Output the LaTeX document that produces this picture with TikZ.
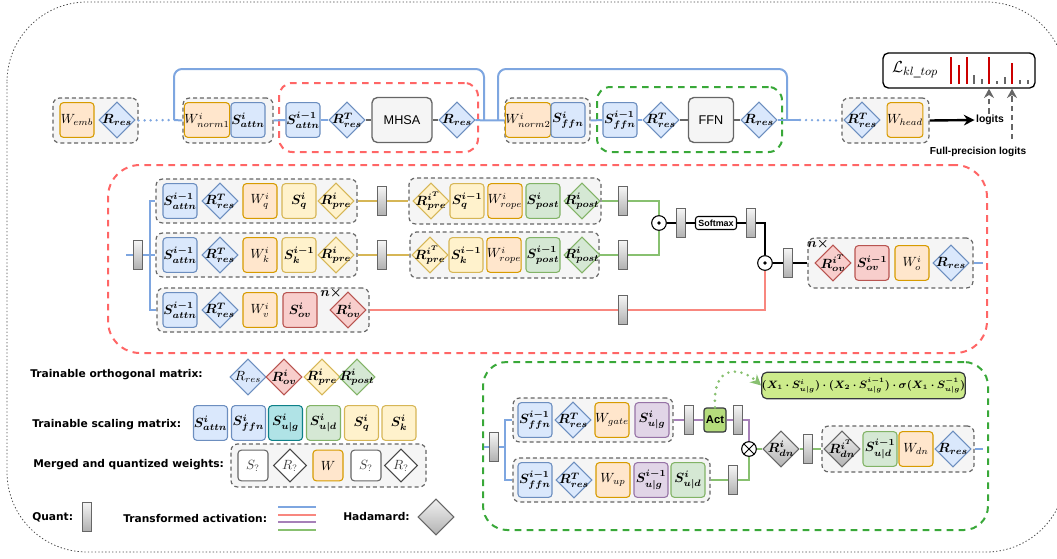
\documentclass[tikz,border=0pt]{standalone}
\usepackage[no-math]{fontspec}
\setmainfont{Liberation Sans}
\newfontfamily\dvs{DejaVu Sans}
\usepackage{amsmath}
\usepackage{bm}
\usetikzlibrary{shapes.geometric,fit,arrows.meta}
\definecolor{cBd}{HTML}{6C8EBF}\definecolor{cBf}{HTML}{DAE8FC}
\definecolor{cOd}{HTML}{D79B00}\definecolor{cOf}{HTML}{FFE6CC}
\definecolor{cYd}{HTML}{D6B656}\definecolor{cYf}{HTML}{FFF2CC}
\definecolor{cGd}{HTML}{82B366}\definecolor{cGf}{HTML}{D5E8D4}
\definecolor{cRd}{HTML}{B85450}\definecolor{cRf}{HTML}{F8CECC}
\definecolor{cPd}{HTML}{9673A6}\definecolor{cPf}{HTML}{E1D5E7}
\definecolor{cTd}{HTML}{0E8088}\definecolor{cTf}{HTML}{B0E3E6}
\definecolor{cGray}{HTML}{666666}\definecolor{cGrpF}{HTML}{F5F5F5}
\definecolor{cBl}{HTML}{7EA6E0}\definecolor{cGold}{HTML}{D6B656}
\definecolor{cGl}{HTML}{88C070}\definecolor{cRl}{HTML}{F8877F}
\definecolor{cPl}{HTML}{A680B8}\definecolor{cRB}{HTML}{FF6666}
\definecolor{cGB}{HTML}{39A839}\definecolor{cLime}{HTML}{CDEB8B}
\definecolor{cAct}{HTML}{B5DC7C}\definecolor{cDk}{HTML}{36393D}
\definecolor{cBar}{HTML}{CC0000}
\tikzset{
 mth/.style={font=\fontsize{10}{12}\selectfont},
 bx/.style={rectangle, rounded corners=2.5pt, line width=0.8pt, minimum width=25.5pt, minimum height=26pt, inner sep=0pt, mth},
 bB/.style={bx, draw=cBd, fill=cBf},
 bO/.style={bx, draw=cOd, fill=cOf},
 bY/.style={bx, draw=cYd, fill=cYf},
 bG/.style={bx, draw=cGd, fill=cGf},
 bR/.style={bx, draw=cRd, fill=cRf},
 bP/.style={bx, draw=cPd, fill=cPf},
 bT/.style={bx, draw=cTd, fill=cTf},
 bW/.style={bx, draw=cGray, fill=white, minimum width=22.5pt, minimum height=23pt, text=black!75},
 dm/.style={diamond, line width=0.8pt, minimum width=27pt, minimum height=27pt, inner sep=0pt},
 dB/.style={dm, draw=cBd, fill=cBf},
 dR/.style={dm, draw=cRd, fill=cRf},
 dY/.style={dm, draw=cYd, fill=cYf},
 dG/.style={dm, draw=cGd, fill=cGf},
 dH/.style={dm, draw=cGray, top color=gray!12, bottom color=gray!60},
 dW/.style={dm, draw=cGray!70!black, fill=white, minimum width=25pt, minimum height=25pt},
 grp/.style={draw=cGray, fill=cGrpF, line width=0.9pt, dash pattern=on 3pt off 2.2pt, rounded corners=5pt, inner sep=0pt},
 qt/.style={rectangle, draw=cGray, line width=0.7pt, top color=gray!8, bottom color=gray!62, minimum width=7pt, minimum height=21.75pt, inner sep=0pt},
 op/.style={rectangle, rounded corners=4pt, draw=cGray, fill=cGrpF, line width=1pt, minimum height=33.75pt, font=\fontsize{9.5}{11}\selectfont},
 cl/.style={circle, draw=black, line width=0.8pt, fill=white, minimum size=11pt, inner sep=0pt},
 lB/.style={draw=cBl, line width=1.5pt},
 lGd/.style={draw=cGold, line width=1.5pt},
 lGn/.style={draw=cGl, line width=1.5pt},
 lRd/.style={draw=cRl, line width=1.5pt},
 lPu/.style={draw=cPl, line width=1.5pt},
 lK/.style={draw=black, line width=1.5pt},
 lM/.style={draw=cGray, line width=1.5pt},
 dotl/.style={line cap=round, dash pattern=on 0pt off 4.5pt, line width=2pt},
 lgt/.style={font=\dvs\bfseries\fontsize{8}{10}\selectfont, inner sep=0pt, anchor=west},
 bt/.style={font=\bfseries\fontsize{7.8}{9}\selectfont, inner sep=1pt},
 gdarr/.style={draw=cGray, line width=1.5pt, dash pattern=on 4pt off 3pt, -{Stealth[length=7pt,width=7.5pt]}},
}
\newcommand\Dia[4]{\node[#1,label={[mth]center:{#4}}] (#2) at (#3) {};}
\begin{document}
\begin{tikzpicture}[x=0.75pt,y=-0.75pt]
\useasboundingbox (0,0) rectangle (1057,558);
% outer frame
\draw[black!70, line width=0.6pt, dash pattern=on 1pt off 1.6pt, rounded corners=60pt] (7,2) rectangle (1066,552);

% ================= TOP ROW =================
\node[grp, fit={(53,98) (138,143)}] (g0) {};
\node[grp, fit={(183,98) (273,143)}] (g1) {};
\node[draw=cRB, line width=1.5pt, dash pattern=on 5pt off 4pt, rounded corners=10pt, inner sep=0pt, fit={(279,83) (478,152)}] (redtop) {};
\node[grp, fit={(505,98) (590,143)}] (g2) {};
\node[draw=cGB, line width=1.5pt, dash pattern=on 5pt off 4pt, rounded corners=10pt, inner sep=0pt, fit={(597,87) (782,152)}] (grntop) {};
\node[grp, fit={(842,98) (929,143)}] (gh) {};

\node[bO] (wemb) at (77,120) {$W_{emb}$};
\Dia{dB}{rr0}{117,120}{$\bm{R_{res}}$}
\node[bO] (wn1) at (207,120) {$W^{i}_{norm1}$};
\node[bB] (sa1) at (248,120) {$\bm{S^{i}_{attn}}$};
\node[bB] (sa2) at (303,120) {$\bm{S^{i-1}_{attn}}$};
\Dia{dB}{rt1}{347,120}{$\bm{R^{T}_{res}}$}
\node[op, minimum width=45pt] (mhsa) at (402,120) {MHSA};
\Dia{dB}{rr1}{457,120}{$\bm{R_{res}}$}
\node[bO] (wn2) at (528,120) {$W^{i}_{norm2}$};
\node[bB] (sf1) at (568,120) {$\bm{S^{i}_{ffn}}$};
\node[bB] (sf2) at (620,120) {$\bm{S^{i-1}_{ffn}}$};
\Dia{dB}{rt2}{661,120}{$\bm{R^{T}_{res}}$}
\node[op, minimum width=33.75pt] (ffn) at (711,120) {FFN};
\Dia{dB}{rr2}{759,120}{$\bm{R_{res}}$}
\Dia{dB}{rt3}{862,120}{$\bm{R^{T}_{res}}$}
\node[bO] (whead) at (905,120) {$W_{head}$};

\coordinate (lp1) at (174,120);
\coordinate (lp1e) at (484,120);
\coordinate (lp2) at (498,120);
\coordinate (lp2e) at (787,120);
\coordinate (dd1) at (800,120);
\draw[lB, dotl] (g0.east) -- (lp1);
\draw[lB] (lp1) -- (g1.west);
\draw[lB, rounded corners=6pt] (lp1) -- ++(0,-51) -| (lp1e);
\draw[lB] (g1.east) -- (sa2.west);
\draw[lB] (sa2) -- (rt1);
\draw[lM] (rt1) -- (mhsa);
\draw[lM] (mhsa) -- (rr1);
\draw[lB] (rr1) -- (g2.west);
\draw[lB, rounded corners=6pt] (lp2) -- ++(0,-51) -| (lp2e);
\draw[lB] (g2.east) -- (sf2.west);
\draw[lB] (sf2) -- (rt2);
\draw[lM] (rt2) -- (ffn);
\draw[lM] (ffn) -- (rr2);
\draw[lB] (rr2) -- (dd1);
\draw[lB, dotl] (dd1) -- (gh.west);

% logits & loss
\node[bt] (logits) at (990,120) {logits};
\node[bt, inner sep=0pt, font=\bfseries\fontsize{7.6}{9}\selectfont] (fpl) at (978,152) {Full-precision logits};
\draw[black, line width=1.8pt, -{Stealth[length=8pt,width=8pt]}] (gh.east) -- (logits.west);
\node[draw=black, line width=1pt, rounded corners=4pt, inner sep=0pt, fit={(883,53) (1035,88)}] (Lbox) {};
\node[inner sep=0pt, font=\fontsize{13}{14}\selectfont] (Ltxt) at (915,70) {$\mathcal{L}_{kl\_top}$};
\foreach \x/\t in {951/57,959/65,967/57,989/57,1012/63}{\draw[cBar, line width=1.4pt] (\x,84) -- (\x,\t);}
\foreach \x/\t in {974/75,982/79,997/81,1005/77,1020/80,1028/80}{\draw[cGray, line width=1.1pt] (\x,84) -- (\x,\t);}
\coordinate (fpx) at (1012,139);
\draw[gdarr] (logits.north -| 989,0) -- (989,0 |- Lbox.south);
\draw[gdarr] (fpx) -- (fpx |- Lbox.south);

% ================= ATTENTION DETAIL =================
\node[draw=cRB, line width=1.5pt, dash pattern=on 5pt off 4pt, rounded corners=24pt, inner sep=0pt, fit={(108,165) (987,353)}] (attn) {};
\node[grp, fit={(156,179) (357,223)}] (gQ) {};
\node[grp, fit={(156,233) (357,277)}] (gK) {};
\node[grp, fit={(157,288) (369,332)}] (gV) {};
\node[grp, fit={(409,178) (601,224)}] (gQ2) {};
\node[grp, fit={(410,232) (599,278)}] (gK2) {};
\node[grp, fit={(808,238) (973,288)}] (gO) {};

\node[qt] (qa) at (138,255) {};
\coordinate (inA) at (126,255);
\coordinate (brA) at (150,255);

% Q row
\node[bB] (saQ) at (180,201) {$\bm{S^{i-1}_{attn}}$};
\Dia{dB}{rtQ}{220,201}{$\bm{R^{T}_{res}}$}
\node[bO] (wq) at (260,201) {$W^{i}_{q}$};
\node[bY] (sq) at (299,201) {$\bm{S^{i}_{q}}$};
\Dia{dY}{rpQ}{336,201}{$\bm{R^{i}_{pre}}$}
% K row
\node[bB] (saK) at (180,255) {$\bm{S^{i-1}_{attn}}$};
\Dia{dB}{rtK}{220,255}{$\bm{R^{T}_{res}}$}
\node[bO] (wk) at (260,255) {$W^{i}_{k}$};
\node[bY] (sk) at (299,255) {$\bm{S^{i-1}_{k}}$};
\Dia{dY}{rpK}{336,255}{$\bm{R^{i}_{pre}}$}
% V row
\node[bB] (saV) at (180,310) {$\bm{S^{i-1}_{attn}}$};
\Dia{dB}{rtV}{220,310}{$\bm{R^{T}_{res}}$}
\node[bO] (wv) at (260,310) {$W^{i}_{v}$};
\node[bR] (sov) at (300,310) {$\bm{S^{i}_{ov}}$};
\Dia{dR}{rov}{348,310}{$\bm{R^{i}_{ov}}$}
\node[mth, inner sep=0pt] (nx1) at (331,293) {$\bm{n\times}$};

\node[qt] (q1) at (382,201) {};
\node[qt] (q2) at (382,255) {};
% Q2 row
\Dia{dY}{rpiQ}{431,201}{$\bm{R^{i^{T}}_{pre}}$}
\node[bY] (sq2) at (467,201) {$\bm{S^{i-1}_{q}}$};
\node[bO] (wr1) at (505,201) {$W^{i}_{rope}$};
\node[bG] (sp1) at (543,201) {$\bm{S^{i}_{post}}$};
\Dia{dG}{rpo1}{582,201}{$\bm{R^{i}_{post}}$}
% K2 row
\Dia{dY}{rpiK}{430,255}{$\bm{R^{i^{T}}_{pre}}$}
\node[bY] (sk2) at (466,255) {$\bm{S^{i-1}_{k}}$};
\node[bO] (wr2) at (504,255) {$W^{i}_{rope}$};
\node[bG] (sp2) at (543,255) {$\bm{S^{i-1}_{post}}$};
\Dia{dG}{rpo2}{582,255}{$\bm{R^{i}_{post}}$}

\node[qt] (q3) at (623,201) {};
\node[qt] (q4) at (623,255) {};
\node[qt] (q7) at (623,310) {};
\node[cl] (od1) at (659,223) {};
\fill (od1.center) circle (1.4pt);
\node[qt] (q5) at (681,223) {};
\node[draw=black, line width=0.8pt, rounded corners=2pt, fill=white, minimum width=30.75pt, minimum height=9.75pt, inner sep=0pt, font=\bfseries\fontsize{6.7}{8}\selectfont] (smx) at (716,223) {Softmax};
\node[qt] (q6) at (751,223) {};
\node[cl] (od2) at (765,263) {};
\fill (od2.center) circle (1.4pt);
\node[qt] (q8) at (788,263) {};

% O row
\Dia{dR}{rovT}{833,263}{$\bm{R^{i^{T}}_{ov}}$}
\node[bR] (sov2) at (872,263) {$\bm{S^{i-1}_{ov}}$};
\node[bO] (wo) at (912,263) {$W^{i}_{o}$};
\Dia{dB}{rr3}{951,263}{$\bm{R_{res}}$}
\node[mth, inner sep=0pt] (nx2) at (818,244) {$\bm{n\times}$};
\coordinate (outA) at (983,263);

\draw[lB] (inA) -- (qa);
\draw[lB] (qa) -- (brA) -- (gK.west);
\draw[lB] (brA) |- (gQ.west);
\draw[lB] (brA) |- (gV.west);
\draw[lGd] (gQ.east) -- (q1) -- (gQ2.west);
\draw[lGd] (gK.east) -- (q2) -- (gK2.west);
\draw[lGn] (gQ2.east) -- (q3) -| (od1);
\draw[lGn] (gK2.east) -- (q4) -| (od1);
\draw[lRd] (gV.east) -- (q7) -| (od2);
\draw[lK] (od1) -- (q5) -- (smx) -- (q6) -| (od2);
\draw[lK] (od2) -- (q8) -- (gO.west);
\draw[lB] (gO.east) -- (outA);

% ================= LEGEND =================
\node[lgt] (t1) at (30,375) {Trainable orthogonal matrix:};
\Dia{dB}{lr1}{248,377}{$R_{res}$}
\Dia{dR}{lr2}{284,377}{$\bm{R^{i}_{ov}}$}
\Dia{dY}{lr3}{322,377}{$\bm{R^{i}_{pre}}$}
\Dia{dG}{lr4}{357,377}{$\bm{R^{i}_{post}}$}
\node[lgt] (t2) at (32,425) {Trainable scaling matrix:};
\node[bB] (ls1) at (210.5,423) {$\bm{S^{i}_{attn}}$};
\node[bB] (ls2) at (248.5,423) {$\bm{S^{i}_{ffn}}$};
\node[bT] (ls3) at (285.5,423) {$\bm{S^{i}_{u|g}}$};
\node[bG] (ls4) at (323.5,423) {$\bm{S^{i}_{u|d}}$};
\node[bY] (ls5) at (361.5,423) {$\bm{S^{i}_{q}}$};
\node[bY] (ls6) at (399,423) {$\bm{S^{i}_{k}}$};
\node[lgt] (t3) at (33,465) {Merged and quantized weights:};
\node[grp, fit={(231,444) (426,487)}] (lgm) {};
\node[bW] (lm1) at (253,465.5) {$S_{?}$};
\Dia{dW}{lm2}{290,465.5}{\textcolor{black!75}{$R_{?}$}}
\node[bO, minimum width=22.5pt, minimum height=23pt] (lm3) at (328,465.5) {$W$};
\node[bW] (lm4) at (366,465.5) {$S_{?}$};
\Dia{dW}{lm5}{401,465.5}{\textcolor{black!75}{$R_{?}$}}
\node[lgt] (t4) at (32,517) {Quant:};
\node[qt] (lq) at (87,516.5) {};
\node[lgt] (t5) at (123,519) {Transformed activation:};
\draw[cBl, line width=1pt] (278,507) -- (316,507);
\draw[cRl, line width=1pt] (278,515) -- (316,515);
\draw[cPl, line width=1pt] (278,522) -- (316,522);
\draw[cGl, line width=1pt] (278,530) -- (316,530);
\node[lgt] (t6) at (343,517) {Hadamard:};
\node[dH] (lh) at (436,517) {};

% ================= FFN DETAIL =================
\node[draw=cGB, line width=1.5pt, dash pattern=on 5pt off 4pt, rounded corners=18pt, inner sep=0pt, fit={(483,362) (988,530)}] (ffnbox) {};
\node[grp, fit={(513,398) (673,442)}] (gG) {};
\node[grp, fit={(513,458) (710,502)}] (gU) {};
\node[grp, fit={(822,426) (974,472)}] (gD) {};
\node[qt] (qf) at (494,447) {};
\coordinate (inF) at (484,447);
\coordinate (brF) at (505,447);
\node[bB] (sfG) at (535,420) {$\bm{S^{i-1}_{ffn}}$};
\Dia{dB}{rtG}{573,420}{$\bm{R^{T}_{res}}$}
\node[bO] (wg) at (612,420) {$W_{gate}$};
\node[bP] (sug) at (652,420) {$\bm{S^{i}_{u|g}}$};
\node[bB] (sfU) at (535,480) {$\bm{S^{i-1}_{ffn}}$};
\Dia{dB}{rtU}{574,480}{$\bm{R^{T}_{res}}$}
\node[bO] (wu) at (613,480) {$W_{up}$};
\node[bP] (sug2) at (651,480) {$\bm{S^{i-1}_{u|g}}$};
\node[bG] (sud) at (688,480) {$\bm{S^{i}_{u|d}}$};
\node[qt] (qg1) at (689,420) {};
\node[rectangle, draw=cDk, fill=cAct, line width=0.9pt, rounded corners=2pt, minimum width=16.5pt, minimum height=18pt, inner sep=0pt, font=\bfseries\fontsize{8.4}{10}\selectfont] (act) at (715,420) {Act};
\node[qt] (qg2) at (738,420) {};
\node[qt] (qu) at (733,480) {};
\node[cl, path picture={\draw[line width=0.7pt] (path picture bounding box.north west) -- (path picture bounding box.south east) (path picture bounding box.north east) -- (path picture bounding box.south west);}] (ot) at (749,449) {};
\Dia{dH}{rdn}{781,449}{$\bm{R^{i}_{dn}}$}
\node[qt] (qd) at (808,449) {};
\Dia{dH}{rdnT}{842,449}{$\bm{R^{i^{T}}_{dn}}$}
\node[bG] (sud2) at (880,449) {$\bm{S^{i-1}_{u|d}}$};
\node[bO] (wdn) at (916,449) {$W_{dn}$};
\Dia{dB}{rr4}{953,449}{$\bm{R_{res}}$}
\coordinate (outF) at (983,449);
\node[rectangle, draw=cDk, fill=cLime, line width=0.9pt, rounded corners=4pt, minimum width=149pt, minimum height=20pt, inner sep=0pt, font=\fontsize{7.7}{9}\selectfont] (form) at (863.5,385.5) {$\bm{(X_1\cdot S^{i}_{u|g})\cdot(X_2\cdot S^{i-1}_{u|g})\cdot\sigma(X_1\cdot S^{-1}_{u|g})}$};

\draw[lB] (inF) -- (qf) -- (brF);
\draw[lB] (brF) |- (gG.west);
\draw[lB] (brF) |- (gU.west);
\draw[lPu] (gG.east) -- (qg1) -- (act) -- (qg2) -| (ot);
\draw[lGn] (gU.east) -- (qu) -| (ot);
\draw[lGn] (ot) -- (rdn) -- (qd) -- (gD.west);
\draw[lB] (gD.east) -- (outF);
\draw[draw=cGl, line width=2.2pt, line cap=round, dash pattern=on 0pt off 5pt, -{Stealth[length=8pt,width=8pt,inset=2.5pt,fill=cGl]}] (act.north) .. controls (712,362) and (742,368) .. (form.west);
\end{tikzpicture}
\end{document}
